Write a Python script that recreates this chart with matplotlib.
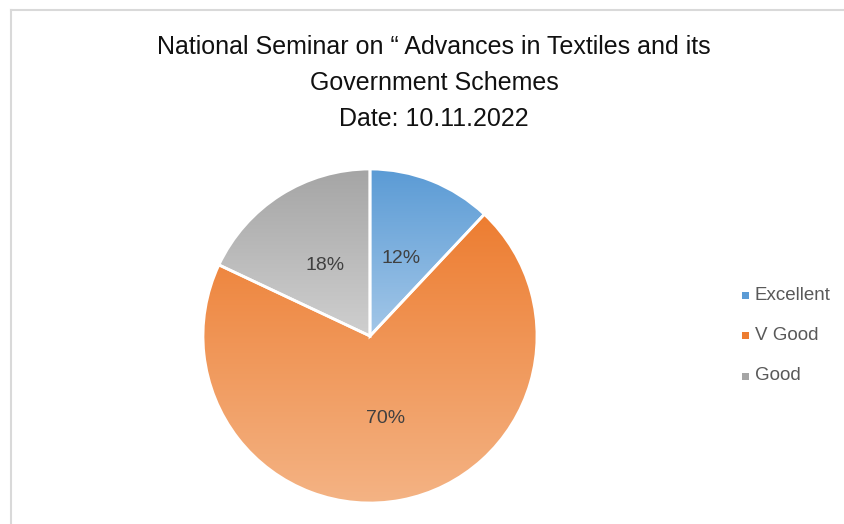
import matplotlib
matplotlib.use('Agg')
import matplotlib.pyplot as plt
import numpy as np
from matplotlib.colors import LinearSegmentedColormap
from matplotlib.lines import Line2D

categories = ['Excellent', 'V Good', 'Good']
shares = [12, 70, 18]
title_lines = ['National Seminar on \u201c Advances in Textiles and its',
               'Government Schemes',
               'Date: 10.11.2022']

# Excel-ish gradient fills: darker at top, lighter at bottom
top_colors = ['#5B9BD5', '#ED7D31', '#A5A5A5']
bottom_colors = ['#A3C7E8', '#F4B384', '#CFCFCF']

plt.rcParams['font.family'] = ['Liberation Sans', 'DejaVu Sans']

W, H = 845, 524
fig = plt.figure(figsize=(W / 100, H / 100), dpi=100)

# light frame (top and left edges visible)
fig.add_artist(Line2D([11 / W, 1], [1 - 10 / H, 1 - 10 / H], color='#D9D9D9', lw=1.5))
fig.add_artist(Line2D([11 / W, 11 / W], [0, 1 - 10 / H], color='#D9D9D9', lw=1.5))

for i, line in enumerate(title_lines):
    fig.text(434 / W, 1 - (47 + 36 * i) / H, line, ha='center', va='center',
             fontsize=18, color='#111111')

r_px = 167
cx, cy = 370, 336
ax = fig.add_axes([(cx - r_px) / W, (H - cy - r_px) / H, 2 * r_px / W, 2 * r_px / H])
ax.set_xlim(-1, 1)
ax.set_ylim(-1, 1)
ax.axis('off')

wedges, texts, autotexts = ax.pie(
    shares, colors=top_colors, startangle=90, counterclock=False, radius=1,
    autopct='%1.0f%%', pctdistance=0.5,
    wedgeprops=dict(edgecolor='white', linewidth=2),
    textprops=dict(color='#404040', fontsize=14))

for w, c0, c1 in zip(wedges, top_colors, bottom_colors):
    ext = w.get_path().get_extents()
    cmap = LinearSegmentedColormap.from_list('g', [c1, c0])
    grad = np.linspace(0, 1, 256).reshape(-1, 1)
    im = ax.imshow(grad, cmap=cmap, origin='lower', aspect='auto',
                   extent=[ext.x0, ext.x1, ext.y0, ext.y1], zorder=w.get_zorder() + 0.1)
    im.set_clip_path(w)
    w.set_facecolor('none')
    w.set_zorder(w.get_zorder() + 0.2)

for t in autotexts:
    t.set_zorder(5)
ax.set_xlim(-1, 1)
ax.set_ylim(-1, 1)

for i, (name, col) in enumerate(zip(categories, top_colors)):
    y = 1 - (295 + 40.5 * i) / H
    fig.patches.append(plt.Rectangle((742 / W, y - 3.5 / H), 7 / W, 7 / H,
                                     transform=fig.transFigure, facecolor=col,
                                     edgecolor='none', figure=fig))
    fig.text(755 / W, y, name, ha='left', va='center', fontsize=13.5, color='#595959')

fig.savefig('out.png', dpi=100)
